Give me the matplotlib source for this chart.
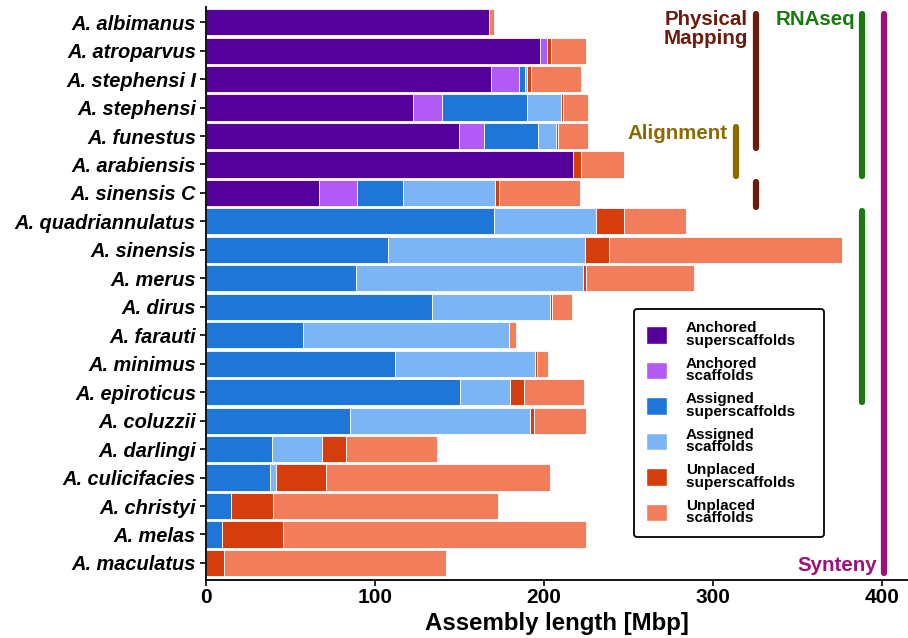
import numpy as np
import matplotlib.pyplot as plt
from matplotlib.patches import Patch

plt.rcParams['font.family'] = ['Liberation Sans', 'DejaVu Sans']
plt.rcParams['font.weight'] = 'bold'

species = ['A. albimanus', 'A. atroparvus', 'A. stephensi I', 'A. stephensi',
           'A. funestus', 'A. arabiensis', 'A. sinensis C', 'A. quadriannulatus',
           'A. sinensis', 'A. merus', 'A. dirus', 'A. farauti', 'A. minimus',
           'A. epiroticus', 'A. coluzzii', 'A. darlingi', 'A. culicifacies',
           'A. christyi', 'A. melas', 'A. maculatus']

# segment lengths in Mbp
anchored_super = [167.5, 197.4, 168.7, 122.8, 149.6, 216.9, 66.9, 0, 0, 0,
                  0, 0, 0, 0, 0, 0, 0, 0, 0, 0]
anchored_scaf = [0, 4.2, 16.7, 16.7, 14.8, 0, 22.3, 0, 0, 0,
                 0, 0, 0, 0, 0, 0, 0, 0, 0, 0]
assigned_super = [0, 0, 3.2, 50.5, 32.1, 0, 27.5, 170.5, 107.9, 88.8,
                  133.9, 57.7, 111.8, 150.4, 85.4, 39.5, 37.8, 14.9, 9.8, 0]
assigned_scaf = [0, 0, 1.2, 20.0, 10.8, 0, 54.3, 60.0, 116.1, 134.1,
                 69.9, 121.5, 82.7, 29.3, 106.6, 29.2, 3.5, 0, 0, 0]
unplaced_super = [0, 2.7, 2.3, 1.0, 0.8, 5.1, 2.4, 17.0, 14.4, 1.7,
                  0.7, 0, 1.2, 8.5, 2.0, 14.0, 30.0, 25.0, 36.2, 10.8]
unplaced_scaf = [3.0, 20.3, 29.6, 14.8, 17.7, 25.2, 47.9, 36.5, 138.1, 63.9,
                 12.0, 4.1, 6.5, 35.7, 30.8, 54.3, 132.2, 133.1, 178.6, 131.3]

seg_names = ['Anchored\nsuperscaffolds', 'Anchored\nscaffolds', 'Assigned\nsuperscaffolds',
             'Assigned\nscaffolds', 'Unplaced\nsuperscaffolds', 'Unplaced\nscaffolds']
seg_colors = ['#55009b', '#b15af6', '#1e77d8', '#7bb5f5', '#d63d0c', '#f17d5a']

# method annotation bars: (x, y_start_row, y_end_row)
methods = ['Physical\nMapping', 'Alignment', 'RNAseq', 'Synteny']
method_colors = ['#6e1a0c', '#8c6a00', '#187a10', '#a0107a']
method_x = [325.4, 313.6, 388.0, 401.3]
method_spans = [[(-0.27, 4.41), (5.6, 6.48)],
                [(3.7, 5.39)],
                [(-0.27, 5.39), (6.63, 13.34)],
                [(-0.27, 19.34)]]

fig = plt.figure(figsize=(9.08, 6.38), dpi=100)
ax = fig.add_axes([0.2265, 0.0909, 0.773, 0.898])

y = np.arange(len(species))
left = np.zeros(len(species))
segs = [anchored_super, anchored_scaf, assigned_super, assigned_scaf, unplaced_super, unplaced_scaf]
for vals, col in zip(segs, seg_colors):
    vals = np.array(vals)
    ax.barh(y, vals, left=left, height=0.92, color=col, edgecolor='white', linewidth=0.6)
    left += vals

for xv, spans, col in zip(method_x, method_spans, method_colors):
    for a, b in spans:
        ax.plot([xv, xv], [a, b], color=col, linewidth=4.5, solid_capstyle='round')

tkw = dict(fontsize=14.8, fontweight='bold')
ax.text(320.5, -0.42, methods[0], color=method_colors[0], ha='right', va='top',
        linespacing=1.0, **tkw)
ax.text(308.5, 4.24, methods[1], color=method_colors[1], ha='right', va='bottom', **tkw)
ax.text(384, -0.42, methods[2], color=method_colors[2], ha='right', va='top', **tkw)
ax.text(397, 19.42, methods[3], color=method_colors[3], ha='right', va='bottom', **tkw)

ax.set_yticks(y)
ax.set_yticklabels(species, fontsize=14.4, fontstyle='italic', fontweight='bold')
ax.set_ylim(19.6, -0.53)
ax.set_xlim(0, 415)
ax.set_xticks([0, 100, 200, 300, 400])
ax.tick_params(axis='x', labelsize=15, length=4, width=1.2, pad=1.5)
ax.tick_params(axis='y', length=4, width=1.2, pad=3)
ax.set_xlabel('Assembly length [Mbp]', fontsize=17.3, fontweight='bold', labelpad=4)
ax.spines['top'].set_visible(False)
ax.spines['right'].set_visible(False)
ax.spines['left'].set_linewidth(1.3)
ax.spines['bottom'].set_linewidth(1.3)

labels = [n + '    ' for n in seg_names]
handles = [Patch(facecolor=c, edgecolor='white', label=n) for n, c in zip(labels, seg_colors)]
leg = ax.legend(handles=handles, loc='upper left', bbox_to_anchor=(0.610, 0.473),
                borderaxespad=0, prop={'size': 11, 'weight': 'bold'}, frameon=True,
                fancybox=True, edgecolor='black', handlelength=1.4, handleheight=1.4,
                labelspacing=0.6, borderpad=0.8, handletextpad=1.2)
leg.get_frame().set_linewidth(1.3)
leg.get_frame().set_alpha(1)
for t in leg.get_texts():
    t.set_linespacing(0.85)

fig.savefig('out.png', dpi=100)
